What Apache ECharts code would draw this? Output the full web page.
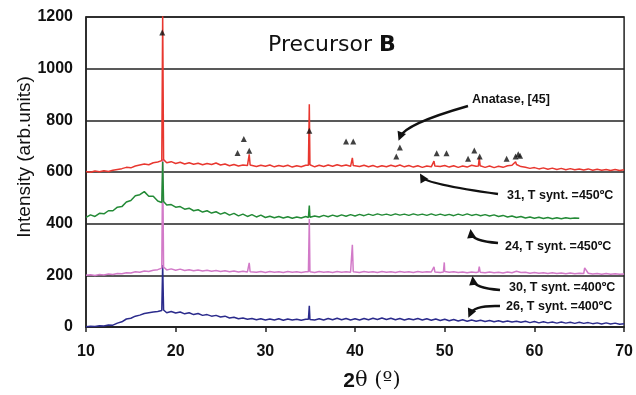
<!DOCTYPE html>
<html>
<head>
<meta charset="utf-8">
<script src="https://cdn.jsdelivr.net/npm/echarts@6/dist/echarts.min.js"></script>
<style>
  html, body { margin: 0; padding: 0; background: #fff; }
  #main { width: 636px; height: 395px; }
</style>
</head>
<body>
<div id="main"></div>
<script>
// baselines sampled every 0.5 deg starting at 10
const red31 = [602,599,604,601,605,602,607,610,613,618,616,623,627,631,628,636,639,642,636,640,
  633,638,631,636,630,634,628,633,629,635,627,631,624,629,623,627,625,628,621,626,
  622,627,620,625,621,626,619,624,620,626,624,620,626,621,627,622,628,623,627,622,
  628,621,626,620,625,619,624,620,626,621,627,620,625,619,624,618,623,620,626,621,
  625,619,624,618,623,619,626,622,625,618,623,617,622,618,624,626,629,621,618,614,
  617,612,616,611,615,610,614,609,613,609,612,608,612,607,611,607,610,606,610,606,609];
const red31Peaks = [[18.45,644],[18.55,1212],[18.65,648],[28.1,626],[28.2,668],[28.3,627],
  [34.8,626],[34.9,862],[34.97,628],[39.6,624],[39.7,655],[39.8,625],[48.7,622],[48.8,642],[48.9,623],
  [53.75,623],[53.85,656],[53.95,624],[57.9,640]];

// green curve stops at 65
const green24 = [424,434,428,440,438,450,450,464,466,484,490,508,512,524,506,506,488,484,472,474,
  464,466,456,460,450,454,445,450,441,446,437,443,433,440,430,437,428,435,426,433,
  424,429,423,428,422,427,421,426,422,428,424,430,426,432,427,433,428,434,429,
  435,430,436,431,437,432,438,433,437,432,438,433,437,432,438,433,437,432,438,432,
  437,432,436,431,437,432,438,432,436,431,435,430,434,428,432,426,430,424,428,422,
  426,421,425,420,424,419,423,419,423,420,422,421];
const green24Peaks = [[18.45,482],[18.55,640],[18.65,486],[34.8,424],[34.9,470],[34.97,425]];

const pink30 = [200,202,199,203,201,205,203,207,206,210,209,214,212,217,215,220,222,226,221,225,
  220,224,219,222,218,221,217,220,216,219,215,218,214,217,213,216,213,215,212,215,
  211,215,212,214,211,215,212,214,211,214,213,211,215,212,214,211,215,212,214,212,
  214,211,215,212,214,211,215,212,214,211,215,212,214,211,215,212,214,213,214,211,
  215,212,214,211,213,210,213,211,214,210,213,210,212,209,213,210,216,211,212,208,
  211,208,210,207,210,207,209,206,209,206,208,207,208,205,207,204,207,204,206,204,205];
const pink30Peaks = [[18.45,228],[18.55,650],[18.65,232],[28.1,215],[28.2,248],[28.3,214],
  [34.8,214],[34.9,418],[34.97,214],[39.6,213],[39.7,318],[39.8,214],[48.7,213],[48.8,233],[48.9,213],
  [49.85,213],[49.95,250],[53.75,213],[53.85,234],[53.95,212],[65.6,229]];

const navy26 = [1,3,2,5,4,8,7,15,20,31,34,42,46,52,55,58,60,62,55,60,
  54,58,51,55,48,52,45,48,42,45,39,42,35,38,32,35,30,33,28,32,
  27,31,27,32,26,31,27,30,26,30,31,27,32,27,33,28,34,28,33,27,
  32,27,33,28,34,29,35,29,34,28,33,27,32,28,33,27,32,26,31,25,
  30,24,29,23,28,22,27,22,26,21,25,20,24,19,23,19,22,18,22,17,
  21,16,20,16,19,15,19,15,18,14,18,14,17,13,16,12,16,12,15,11,13];
const navy26Peaks = [[18.45,64],[18.55,240],[18.65,66],[34.8,30],[34.9,82],[34.97,29]];

// anatase reflections (triangles)
const anatase = [[18.5,1140],[26.9,674],[27.6,728],[28.2,682],[34.9,760],[39.0,718],[39.8,718],
  [44.6,660],[45.0,695],[49.1,673],[50.2,673],[52.6,651],[53.3,683],[53.9,660],[56.9,651],
  [57.9,660],[58.2,669],[58.4,663]];

function merge(base, peaks) {
  const pts = base.map(function (v, i) { return [10 + i * 0.5, v]; });
  return pts.concat(peaks).sort(function (a, b) { return a[0] - b[0]; });
}

function lineSeries(name, color, data) {
  return {
    name: name, type: 'line', data: data, showSymbol: false, symbol: 'none',
    lineStyle: { color: color, width: 1.5 }, animation: false, z: 3
  };
}

// curved arrow: start -> control -> end, arrowhead at end
function arrow(x1, y1, cx, cy, x2, y2) {
  const ang = Math.atan2(y2 - cy, x2 - cx);
  const L = 9, W = 4.5;
  const tx = x2 + Math.cos(ang) * 4, ty = y2 + Math.sin(ang) * 4;
  const bx = tx - Math.cos(ang) * L, by = ty - Math.sin(ang) * L;
  return [
    { type: 'bezierCurve', shape: { x1: x1, y1: y1, x2: x2, y2: y2, cpx1: cx, cpy1: cy },
      style: { stroke: '#111', lineWidth: 2.5, fill: null }, z: 10 },
    { type: 'polygon', shape: { points: [[tx, ty],
        [bx + Math.sin(ang) * W, by - Math.cos(ang) * W],
        [bx - Math.sin(ang) * W, by + Math.cos(ang) * W]] },
      style: { fill: '#111' }, z: 10 }
  ];
}

function label(x, y, text) {
  return { type: 'text', x: x, y: y, z: 10,
    style: { text: text, fill: '#111', font: 'bold 12.5px "Liberation Sans", Arial, sans-serif',
      verticalAlign: 'middle' } };
}

const chart = echarts.init(document.getElementById('main'));

let graphics = [
  { type: 'text', x: 268, y: 45, z: 10,
    style: { text: '{n|Precursor }{b|B}', verticalAlign: 'middle',
      rich: { n: { fontSize: 22, fontFamily: 'DejaVu Sans', fill: '#111' },
              b: { fontSize: 22, fontFamily: 'DejaVu Sans', fontWeight: 'bold', fill: '#111' } } } },
  { type: 'text', x: 25, y: 157, rotation: Math.PI / 2, z: 10,
    style: { text: 'Intensity (arb.units)', fill: '#111', align: 'center', verticalAlign: 'middle',
      font: '19px "Liberation Sans", Arial, sans-serif' } },
  { type: 'text', x: 372, y: 381, z: 10,
    style: { text: '{b|2}{n|θ (º)}', align: 'center', verticalAlign: 'middle',
      rich: { b: { fontSize: 21, fontWeight: 'bold', fontFamily: 'Liberation Sans', fill: '#111' },
              n: { fontSize: 21, fontFamily: 'DejaVu Serif', fill: '#111' } } } },
  label(472, 100, 'Anatase, [45]'),
  label(507, 196, '31, T synt. =450ºC'),
  label(505, 247, '24, T synt. =450ºC'),
  label(509, 288, '30, T synt. =400ºC'),
  label(506, 307, '26, T synt. =400ºC')
];
graphics = graphics
  .concat(arrow(468, 106, 405, 124, 400, 137))
  .concat(arrow(498, 194, 426, 184, 422, 177))
  .concat(arrow(498, 243, 472, 241, 471, 233))
  .concat(arrow(500, 290, 474, 288, 473, 280))
  .concat(arrow(500, 306, 474, 305, 470, 314));

const option = {
  backgroundColor: '#fff',
  animation: false,
  grid: { left: 86, right: 8, top: 17, bottom: 68, show: true, borderColor: '#222', borderWidth: 1.5 },
  xAxis: {
    type: 'value', min: 10, max: 70, interval: 10,
    axisLine: { lineStyle: { color: '#222', width: 1.5 } },
    axisTick: { lineStyle: { color: '#222', width: 1.5 }, length: 5 },
    axisLabel: { color: '#111', fontSize: 16, fontWeight: 'bold', fontFamily: 'Liberation Sans', margin: 17 },
    splitLine: { show: false }
  },
  yAxis: {
    type: 'value', min: 0, max: 1200, interval: 200,
    axisLine: { show: true, lineStyle: { color: '#222', width: 1.5 } },
    axisTick: { show: false },
    axisLabel: { color: '#111', fontSize: 16, fontWeight: 'bold', fontFamily: 'Liberation Sans', margin: 13,
      formatter: function (v) { return String(v); } },
    splitLine: { lineStyle: { color: '#222', width: 1.5 } }
  },
  series: [
    lineSeries('26', '#2b2b8c', merge(navy26, navy26Peaks)),
    lineSeries('30', '#d27ac8', merge(pink30, pink30Peaks)),
    lineSeries('24', '#238a36', merge(green24, green24Peaks)),
    lineSeries('31', '#e8372f', merge(red31, red31Peaks)),
    { name: 'Anatase', type: 'scatter', data: anatase, symbol: 'triangle', symbolSize: 6,
      itemStyle: { color: '#111' }, z: 5 }
  ],
  graphic: graphics
};
chart.setOption(option);
</script>
</body>
</html>
